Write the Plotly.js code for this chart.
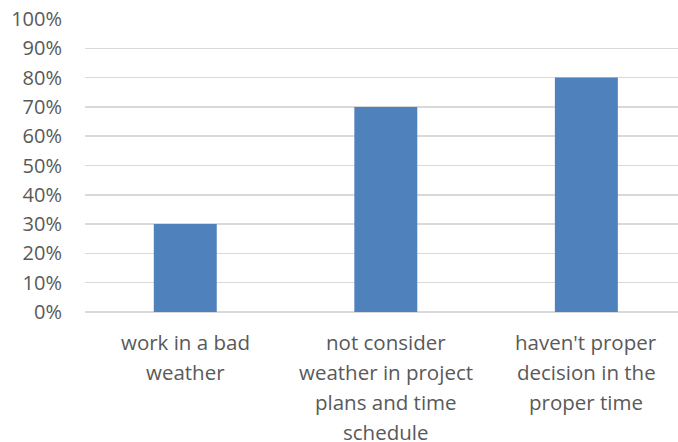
<!DOCTYPE html>
<html>
<head>
<meta charset="utf-8">
<script src="https://cdn.plot.ly/plotly-3.0.1.min.js"></script>
<style>html,body{margin:0;padding:0;background:#fff}#chart{width:678px;height:442px}</style>
</head>
<body>
<div id="chart"></div>
<script>
const categoryLines = [
  ["work in a bad", "weather"],
  ["not consider", "weather in project", "plans and time", "schedule"],
  ["haven't proper", "decision in the", "proper time"]
];
const values = [0.30, 0.70, 0.80];
const tickVals = [0, 0.1, 0.2, 0.3, 0.4, 0.5, 0.6, 0.7, 0.8, 0.9, 1.0];
const tickText = ["0%", "10%", "20%", "30%", "40%", "50%", "60%", "70%", "80%", "90%", "100%"];

const xPos = categoryLines.map((_, i) => i);

const trace = {
  type: 'bar',
  x: xPos,
  y: values,
  width: 0.314,
  marker: {color: '#4F81BD'},
  hoverinfo: 'none'
};

const annotations = [];
categoryLines.forEach((lines, i) => {
  lines.forEach((line, j) => {
    annotations.push({
      x: i, y: 0, xref: 'x', yref: 'y',
      text: line, showarrow: false,
      xanchor: 'center', yanchor: 'top',
      yshift: -14 - 30 * j,
      font: {family: 'Open Sans, sans-serif', size: 20.5, color: '#595959'}
    });
  });
});

const layout = {
  width: 678,
  height: 442,
  margin: {l: 85, r: 0, t: 19, b: 130},
  paper_bgcolor: '#fff',
  plot_bgcolor: '#fff',
  showlegend: false,
  font: {family: 'Open Sans, sans-serif', size: 20, color: '#595959'},
  annotations: annotations,
  xaxis: {
    range: [-0.5, 2.457],
    showticklabels: false,
    showgrid: false,
    zeroline: false,
    showline: false,
    ticks: '',
    fixedrange: true
  },
  yaxis: {
    range: [0, 1],
    tickmode: 'array',
    tickvals: tickVals,
    ticktext: tickText,
    showgrid: true,
    gridcolor: '#D9D9D9',
    gridwidth: 1.5,
    zeroline: true,
    zerolinecolor: '#D9D9D9',
    zerolinewidth: 1.5,
    showline: false,
    ticks: '',
    ticklabelstandoff: 22,
    fixedrange: true
  }
};

Plotly.newPlot('chart', [trace], layout, {displayModeBar: false, staticPlot: true});
</script>
</body>
</html>
